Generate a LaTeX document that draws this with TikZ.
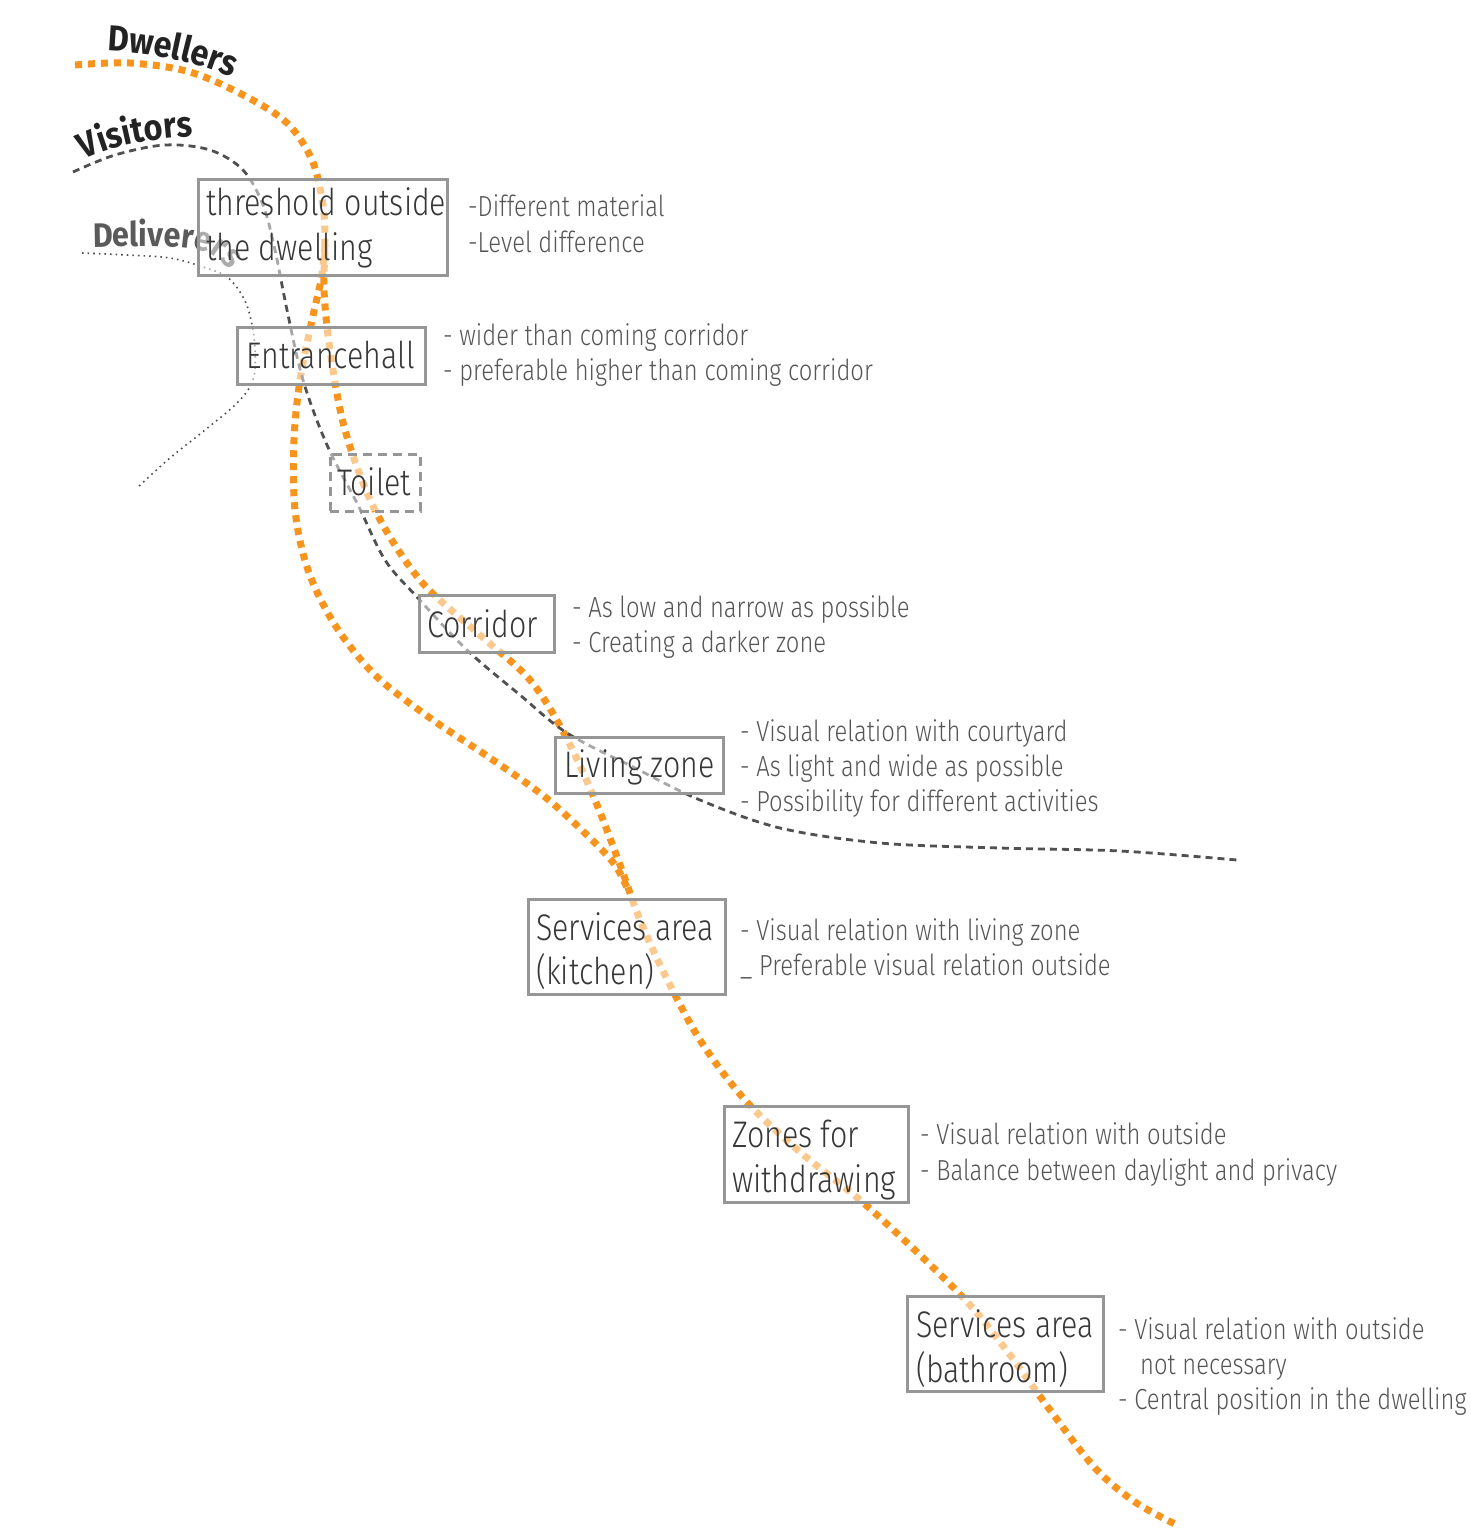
\documentclass[tikz,border=0pt]{standalone}
\usepackage{fontspec}
\usetikzlibrary{decorations.text}
\newfontfamily\boxfont{Fira Sans Light}[FakeStretch=0.82]
\newfontfamily\labfont{Fira Sans Bold}[FakeStretch=0.9]
\definecolor{orng}{RGB}{247,148,30}
\definecolor{boxline}{RGB}{150,150,150}
\definecolor{boxtxt}{RGB}{55,55,55}
\definecolor{annot}{RGB}{85,85,85}
\definecolor{lab}{RGB}{35,35,35}
\definecolor{labgray}{RGB}{90,90,90}
\definecolor{vis}{RGB}{80,80,80}
\pgfdeclarelayer{bg}
\pgfsetlayers{bg,main}
\tikzset{
  roombox/.style={draw=boxline, line width=3pt, fill=white, fill opacity=0.5, draw opacity=1, anchor=north west, inner sep=0pt, outer sep=0pt},
  roomtxt/.style={anchor=base west, inner sep=0pt, font=\boxfont\fontsize{37}{44}\selectfont, text=boxtxt},
  annottxt/.style={anchor=base west, inner sep=0pt, font=\boxfont\fontsize{29}{35}\selectfont, text=annot},
  dweller/.style={draw=orng, line width=7pt, dash pattern=on 7pt off 6pt},
  visitor/.style={draw=vis, line width=2.8pt, dash pattern=on 7pt off 5pt},
  deliverer/.style={draw=vis, line width=1.6pt, dash pattern=on 1.6pt off 4pt},
}
\begin{document}
\begin{tikzpicture}[x=1pt,y=-1pt]
\useasboundingbox (0,0) rectangle (1471,1534);

\begin{pgfonlayer}{bg}
% Dwellers
\draw[dweller] plot[smooth, tension=0.55] coordinates {(75,65) (130,63) (190,72) (245,96) (287,123) (312,160) (323,205) (325,245) (324,290) (330,350) (345,430) (375,510) (420,580) (480,635) (530,680) (565,735) (595,800) (620,865) (640,920) (665,975) (700,1040) (745,1100) (800,1152) (860,1200) (920,1255) (970,1305) (1010,1355) (1050,1410) (1095,1468) (1135,1502) (1175,1524)};
\draw[dweller] plot[smooth, tension=0.55] coordinates {(325,245) (321,280) (312,320) (300,380) (294,440) (295,510) (308,570) (335,625) (375,675) (430,718) (490,758) (545,797) (590,838) (615,865) (628,890)};
% Visitors
\draw[visitor] plot[smooth, tension=0.55] coordinates {(73,172) (115,155) (165,145) (210,150) (243,170) (263,205) (275,250) (287,310) (303,380) (327,445) (358,505) (385,560) (417,597) (467,650) (520,695) (567,733) (633,767) (700,800) (780,828) (880,843) (1000,848) (1120,851) (1237,860)};
% Deliverers
\draw[deliverer] plot[smooth, tension=0.6] coordinates {(82,253) (127,255) (170,258) (203,267) (227,277) (243,297) (251,320) (255,350) (253,380) (237,403) (205,430) (170,458) (137,488)};
% labels
\path[decorate, decoration={text along path, text align=left, text={|\labfont\fontsize{36}{36}\selectfont\color{lab}|Dwellers}}] (107,51) .. controls (150,53) and (205,60) .. (260,92);
\path[decorate, decoration={text along path, text align=left, text={|\labfont\fontsize{36}{36}\selectfont\color{lab}|Visitors}}] (84,160) .. controls (120,143) and (165,135) .. (230,136);
\path[decorate, decoration={text along path, text align=left, text={|\labfont\fontsize{34}{34}\selectfont\color{labgray}|Deliverers}}] (93,247) .. controls (150,246) and (195,245) .. (212,255) .. controls (226,264) and (236,277) .. (246,300) -- (256,330);
\end{pgfonlayer}

% boxes
\node[roombox, minimum width=249pt, minimum height=96pt] (thr) at (198,179) {};
\node[roombox, minimum width=188pt, minimum height=57pt] (ent) at (237,327) {};
\node[roombox, minimum width=90pt, minimum height=57pt, dash pattern=on 9pt off 6pt] (toi) at (330,454) {};
\node[roombox, minimum width=135pt, minimum height=57pt] (cor) at (419,595) {};
\node[roombox, minimum width=168pt, minimum height=56pt] (liv) at (555,737) {};
\node[roombox, minimum width=197pt, minimum height=95pt] (kit) at (528,899) {};
\node[roombox, minimum width=184pt, minimum height=96pt] (wit) at (724,1106) {};
\node[roombox, minimum width=196pt, minimum height=95pt] (bat) at (907,1296) {};

% box texts
\node[roomtxt] (thr1) at (206,215) {threshold outside};
\node[roomtxt] (thr2) at (206,260) {the dwelling};
\node[roomtxt] (ent1) at (246,368) {Entrancehall};
\node[roomtxt] (toi1) at (337,495) {Toilet};
\node[roomtxt] (cor1) at (427,637) {Corridor};
\node[roomtxt] (liv1) at (564,777) {Living zone};
\node[roomtxt] (kit1) at (536,940) {Services area};
\node[roomtxt] (kit2) at (536,984) {(kitchen)};
\node[roomtxt] (wit1) at (732,1147) {Zones for};
\node[roomtxt] (wit2) at (732,1192) {withdrawing};
\node[roomtxt] (bat1) at (916,1337) {Services area};
\node[roomtxt] (bat2) at (916,1382) {(bathroom)};

% annotations
\node[annottxt] (a11) at (468,216) {-Different material};
\node[annottxt] (a12) at (468,252) {-Level difference};
\node[annottxt] (a21) at (443,345) {- wider than coming corridor};
\node[annottxt] (a22) at (443,380) {- preferable higher than coming corridor};
\node[annottxt] (a31) at (572,617) {- As low and narrow as possible};
\node[annottxt] (a32) at (572,652) {- Creating a darker zone};
\node[annottxt] (a41) at (740,741) {- Visual relation with courtyard};
\node[annottxt] (a42) at (740,776) {- As light and wide as possible};
\node[annottxt] (a43) at (740,811) {- Possibility for different activities};
\node[annottxt] (a51) at (740,940) {- Visual relation with living zone};
\node[annottxt] (a52) at (740,975) {\_ Preferable visual relation outside};
\node[annottxt] (a61) at (920,1144) {- Visual relation with outside};
\node[annottxt] (a62) at (920,1180) {- Balance between daylight and privacy};
\node[annottxt] (a71) at (1118,1339) {- Visual relation with outside};
\node[annottxt] (a72) at (1140,1374) {not necessary};
\node[annottxt] (a73) at (1118,1409) {- Central position in the dwelling};
\end{tikzpicture}
\end{document}
